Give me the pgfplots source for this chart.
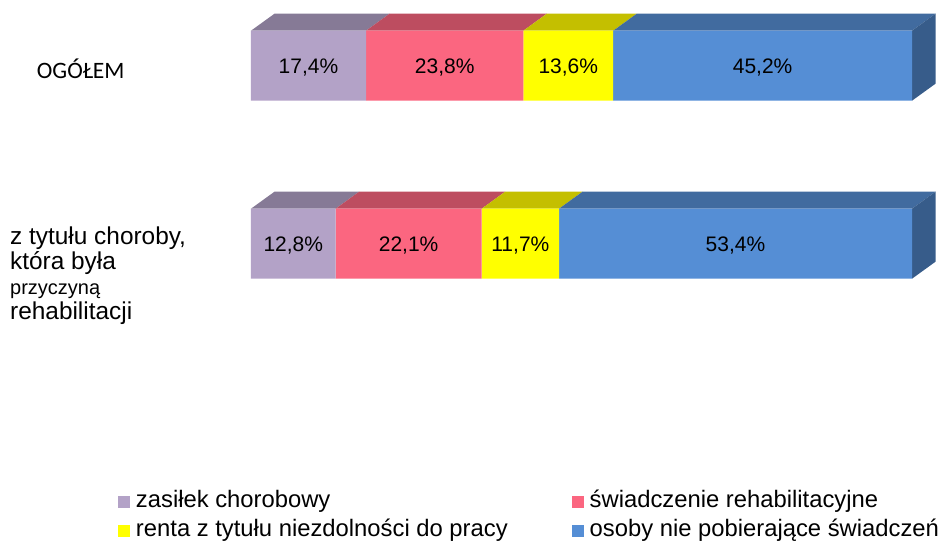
\documentclass[border=0pt]{standalone}
\usepackage{pgfplots}
\pgfplotsset{compat=1.18}
\usepackage{fontspec}
\setmainfont{Liberation Sans}
\newfontfamily\calibri{Carlito}

\definecolor{lila}{HTML}{B3A2C7}
\definecolor{lilatop}{HTML}{867A96}
\definecolor{rosa}{HTML}{FB6680}
\definecolor{rosatop}{HTML}{BD4D60}
\definecolor{gelb}{HTML}{FFFF00}
\definecolor{gelbtop}{HTML}{C4BF00}
\definecolor{blau}{HTML}{558ED5}
\definecolor{blautop}{HTML}{416B9F}
\definecolor{blauside}{HTML}{375C8A}

% 1 Einheit x = 6.61pt, Balken 0..100 -> 251..912 px
\pgfplotsset{basis/.style={
    width=943pt, height=543pt, scale only axis,
    xmin=-37.97, xmax=104.69, ymin=0, ymax=543,
    y dir=reverse, hide axis, clip=false}}

\begin{document}
\begin{tikzpicture}
% --- 3D-Flaechen (oben + rechts) ---
\begin{axis}[basis]
\path (rel axis cs:0,0) rectangle (rel axis cs:1,1);
\addplot[fill=lilatop, draw=none] coordinates {(0,30.7) (17.4,30.7) (20.955,13.7) (3.555,13.7)} -- cycle;
\addplot[fill=rosatop, draw=none] coordinates {(17.4,30.7) (41.2,30.7) (44.755,13.7) (20.955,13.7)} -- cycle;
\addplot[fill=gelbtop, draw=none] coordinates {(41.2,30.7) (54.8,30.7) (58.355,13.7) (44.755,13.7)} -- cycle;
\addplot[fill=blautop, draw=none] coordinates {(54.8,30.7) (100,30.7) (103.555,13.7) (58.355,13.7)} -- cycle;
\addplot[fill=blauside, draw=none] coordinates {(100,30.7) (103.555,13.7) (103.555,83.7) (100,100.7)} -- cycle;

\addplot[fill=lilatop, draw=none] coordinates {(0,208.7) (12.8,208.7) (16.355,191.7) (3.555,191.7)} -- cycle;
\addplot[fill=rosatop, draw=none] coordinates {(12.8,208.7) (34.9,208.7) (38.455,191.7) (16.355,191.7)} -- cycle;
\addplot[fill=gelbtop, draw=none] coordinates {(34.9,208.7) (46.6,208.7) (50.155,191.7) (38.455,191.7)} -- cycle;
\addplot[fill=blautop, draw=none] coordinates {(46.6,208.7) (100,208.7) (103.555,191.7) (50.155,191.7)} -- cycle;
\addplot[fill=blauside, draw=none] coordinates {(100,208.7) (103.555,191.7) (103.555,261.7) (100,278.7)} -- cycle;
\end{axis}

% --- Balken ---
\begin{axis}[basis,
    xbar stacked, bar width=70,
    point meta=explicit symbolic,
    nodes near coords,
    every node near coord/.append style={anchor=center, yshift=-1.5pt,
        font=\fontsize{21}{25}\selectfont, text=black},
    legend columns=2,
    legend cell align=left,
    legend image code/.code={\fill[#1] (0pt,-1pt) rectangle (12pt,11pt);},
    legend style={at={(axis cs:-20.12,490)}, anchor=north west, draw=none, fill=none,
        inner sep=0pt, outer sep=0pt, font=\fontsize{23.8}{27}\selectfont,
        nodes={inner sep=0pt, text height=17pt, text depth=5pt, anchor=base west},
        row sep=7pt,
        /tikz/every odd column/.style={column sep=6pt},
        /tikz/every even column/.style={column sep=64pt}},
]
\addplot[fill=lila, draw=none] coordinates {(17.4,65.7) [17,4\%] (12.8,243.7) [12,8\%]};
\addplot[fill=rosa, draw=none] coordinates {(23.8,65.7) [23,8\%] (22.1,243.7) [22,1\%]};
\addplot[fill=gelb, draw=none] coordinates {(13.6,65.7) [13,6\%] (11.7,243.7) [11,7\%]};
\addplot[fill=blau, draw=none] coordinates {(45.2,65.7) [45,2\%] (53.4,243.7) [53,4\%]};
\legend{zasiłek chorobowy, świadczenie rehabilitacyjne,
        renta z tytułu niezdolności do pracy, osoby nie pobierające świadczeń}

\node[anchor=west, inner sep=0pt, font=\calibri\fontsize{23.5}{27}\selectfont]
    at (axis cs:-32.42,69) {OGÓŁEM};
\node[anchor=west, inner sep=0pt, align=left, font=\fontsize{24.4}{25}\selectfont]
    at (axis cs:-36.46,275.5) {z tytułu choroby,\\która była\\{\fontsize{20}{25}\selectfont przyczyną}\\rehabilitacji};
\end{axis}
\end{tikzpicture}
\end{document}
